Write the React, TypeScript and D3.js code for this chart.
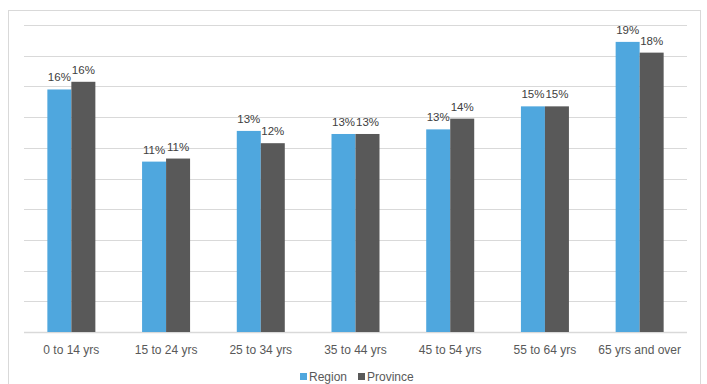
import React from "react";
import * as d3 from "d3";

const categorias = ["0 to 14 yrs", "15 to 24 yrs", "25 to 34 yrs", "35 to 44 yrs", "45 to 54 yrs", "55 to 64 yrs", "65 yrs and over"];
const regiao = [15.8, 11.1, 13.1, 12.9, 13.2, 14.7, 18.9];
const provincia = [16.3, 11.3, 12.3, 12.9, 13.9, 14.7, 18.2];
const series = ["Region", "Province"];
const cores = ["#4FA7DE", "#595959"];
const gradeTicks = d3.range(0, 21, 2);

const largura = 707;
const altura = 384;
const margem = { top: 25, bottom: 52, left: 24, right: 20 };

export default function App() {
    const x = d3.scaleBand<string>()
        .domain(categorias)
        .range([margem.left, largura - margem.right])
        .paddingInner(0)
        .paddingOuter(0);

    const y = d3.scaleLinear()
        .domain([0, 20])
        .range([altura - margem.bottom, margem.top]);

    const larguraBarra = 24;
    const sub = d3.scaleBand<string>()
        .domain(series)
        .range([x.bandwidth() / 2 - larguraBarra, x.bandwidth() / 2 + larguraBarra]);

    const dados = [regiao, provincia];
    const fonte = "'Liberation Sans', Arial, sans-serif";

    return (
        <svg width={largura} height={altura} style={{ position: "absolute", left: 0, top: 0, background: "#fff" }}>
            <rect x={8.5} y={10.5} width={692} height={380} fill="#fff" stroke="#d9d9d9" />
            <g>
                {gradeTicks.map((t) => (
                    <line key={t} x1={margem.left} x2={largura - margem.right} y1={Math.round(y(t)) + 0.5} y2={Math.round(y(t)) + 0.5}
                          stroke="#d9d9d9" strokeWidth={t === 0 ? 1.5 : 1} />
                ))}
            </g>
            {series.map((s, si) => (
                <g key={s} fill={cores[si]}>
                    {categorias.map((c, i) => (
                        <rect key={c} x={(x(c) ?? 0) + (sub(s) ?? 0)} width={sub.bandwidth()}
                              y={y(dados[si][i])} height={y(0) - y(dados[si][i])} />
                    ))}
                </g>
            ))}
            {series.map((s, si) => (
                <g key={s + "-rot"} fontFamily={fonte} fontSize={11.5} fill="#404040" textAnchor="middle">
                    {categorias.map((c, i) => (
                        <text key={c} x={(x(c) ?? 0) + (sub(s) ?? 0) + sub.bandwidth() / 2} y={y(dados[si][i]) - 8}>
                            {Math.round(dados[si][i])}%
                        </text>
                    ))}
                </g>
            ))}
            <g fontFamily={fonte} fontSize={12} fill="#595959" textAnchor="middle">
                {categorias.map((c) => (
                    <text key={c} x={(x(c) ?? 0) + x.bandwidth() / 2} y={y(0) + 22}>{c}</text>
                ))}
            </g>
            <g fontFamily={fonte} fontSize={12} fill="#595959">
                {series.map((s, i) => {
                    const x0 = 300 + i * 58;
                    return (
                        <g key={s}>
                            <rect x={x0} y={373} width={7} height={7} fill={cores[i]} />
                            <text x={x0 + 9} y={381}>{s}</text>
                        </g>
                    );
                })}
            </g>
        </svg>
    );
}
